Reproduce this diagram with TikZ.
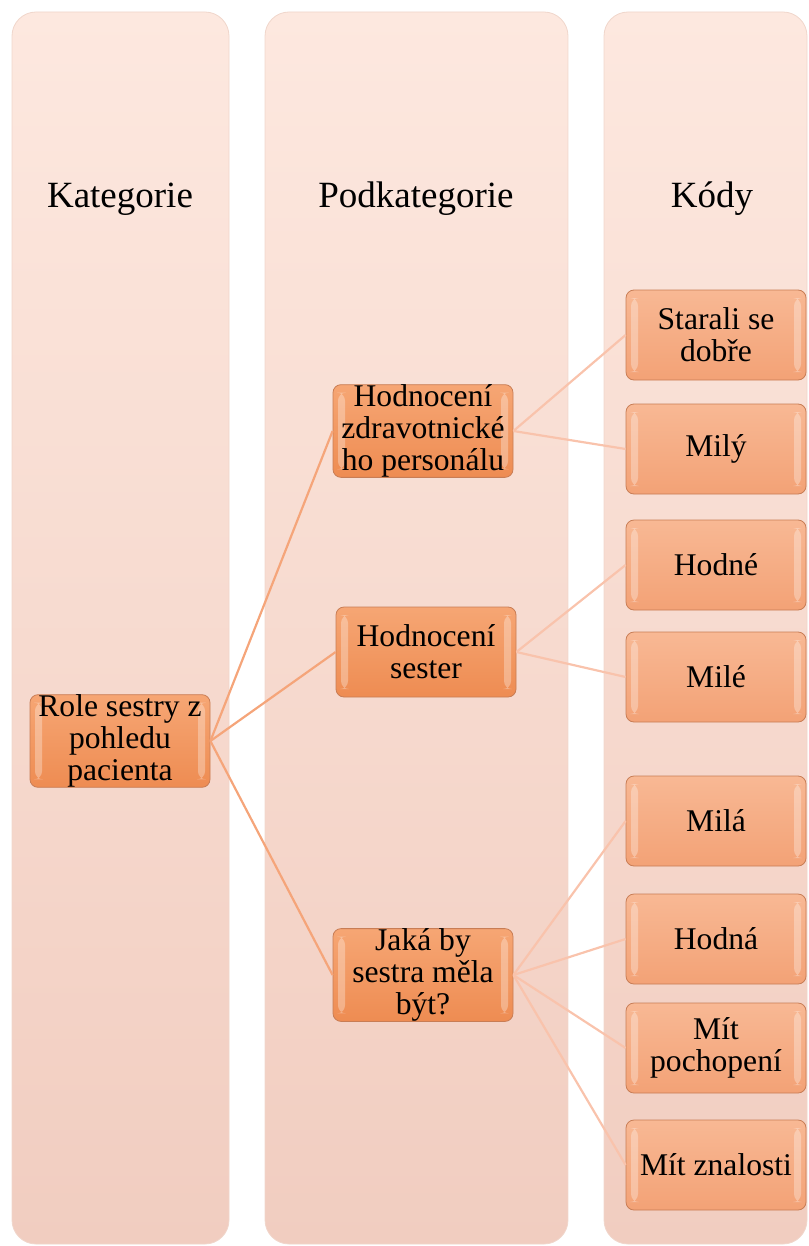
\documentclass[tikz,border=0pt]{standalone}
\usepackage{fontspec}
\setmainfont{Liberation Serif}
\definecolor{coltop}{RGB}{253,232,223}
\definecolor{colbot}{RGB}{241,205,192}
\definecolor{coledge}{RGB}{240,214,203}
\definecolor{boxdark}{RGB}{238,140,82}
\definecolor{boxlight}{RGB}{246,166,116}
\definecolor{codedark}{RGB}{243,162,118}
\definecolor{codelight}{RGB}{248,184,148}
\definecolor{boxedge}{RGB}{200,125,85}
\definecolor{linkA}{RGB}{245,165,122}
\definecolor{linkB}{RGB}{249,195,172}
\tikzset{
	bevel/.style={path picture={
		\fill[white,opacity=0.3] ([shift={(2.5pt,-4pt)}]path picture bounding box.north west) rectangle ([shift={(6pt,4pt)}]path picture bounding box.south west);
		\fill[white,opacity=0.3] ([shift={(-6pt,-4pt)}]path picture bounding box.north east) rectangle ([shift={(-2.5pt,4pt)}]path picture bounding box.south east);}}
}
\begin{document}
\begin{tikzpicture}[x=0.5pt,y=-0.5pt,
	column/.style={draw=coledge,rounded corners=12pt,top color=coltop,bottom color=colbot},
	head/.style={font=\fontsize{18.5}{20}\selectfont},
	box/.style={draw=boxedge,rounded corners=4pt,minimum width=90pt,minimum height=45pt,inner sep=0pt,align=center,
		font=\fontsize{15.8}{16}\selectfont,top color=boxlight,bottom color=boxdark,bevel},
	codebox/.style={box,top color=codelight,bottom color=codedark},
	linkone/.style={linkA,line width=1.1pt},
	linktwo/.style={linkB,line width=1.1pt}]
	\useasboundingbox (0,0) rectangle (808,1246);
	\path[column] (12,12) rectangle (229,1244);
	\path[column] (265,12) rectangle (568,1244);
	\path[column] (604,12) rectangle (807,1244);
	\node[head] (kat) at (120,199) {Kategorie};
	\node[head] (podkat) at (416,199) {Podkategorie};
	\node[head] (kody) at (712,199) {Kódy};
	\node[box] (role) at (120,741) {Role sestry z\\pohledu\\pacienta};
	\node[box] (hpers) at (423,431) {Hodnocení\\zdravotnické\\ho personálu};
	\node[box] (hsest) at (426,652) {Hodnocení\\sester};
	\node[box] (jaka) at (423,975) {Jaká by\\sestra měla\\být?};
	\node[codebox] (starali) at (716,335) {Starali se\\dobře};
	\node[codebox] (mily) at (716,449) {Milý};
	\node[codebox] (hodne) at (716,565) {Hodné};
	\node[codebox] (mile) at (716,677) {Milé};
	\node[codebox] (mila) at (716,821) {Milá};
	\node[codebox] (hodna) at (716,939) {Hodná};
	\node[codebox] (pochop) at (716,1048) {Mít\\pochopení};
	\node[codebox] (znal) at (716,1165) {Mít znalosti};
	\draw[linkone] (role.east) -- (hpers.west);
	\draw[linkone] (role.east) -- (hsest.west);
	\draw[linkone] (role.east) -- (jaka.west);
	\draw[linktwo] (hpers.east) -- (starali.west);
	\draw[linktwo] (hpers.east) -- (mily.west);
	\draw[linktwo] (hsest.east) -- (hodne.west);
	\draw[linktwo] (hsest.east) -- (mile.west);
	\draw[linktwo] (jaka.east) -- (mila.west);
	\draw[linktwo] (jaka.east) -- (hodna.west);
	\draw[linktwo] (jaka.east) -- (pochop.west);
	\draw[linktwo] (jaka.east) -- (znal.west);
\end{tikzpicture}
\end{document}
